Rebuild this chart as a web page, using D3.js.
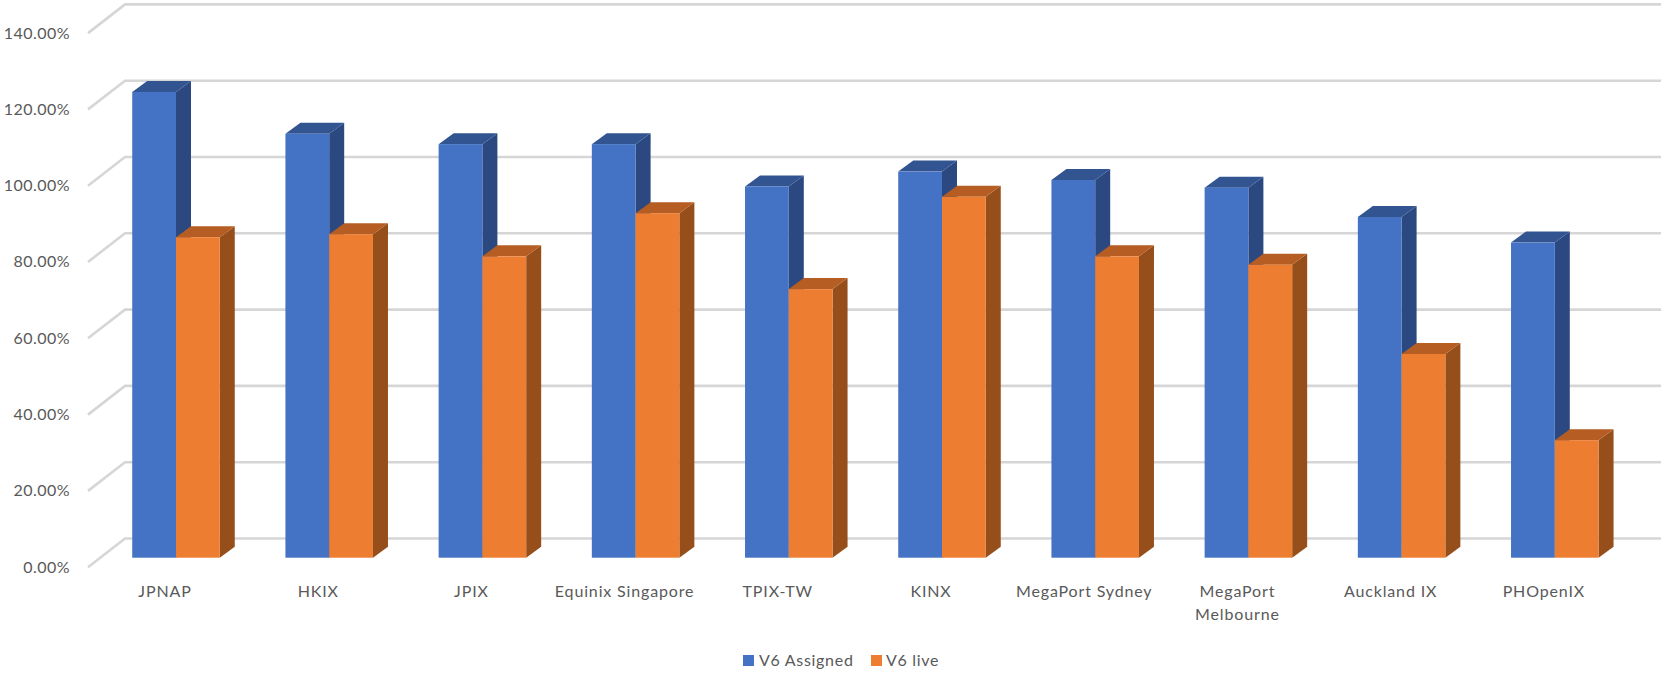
<!DOCTYPE html>
<html><head><meta charset="utf-8">
<script src="https://cdn.jsdelivr.net/npm/d3@7/dist/d3.min.js"></script>
<style>html,body{margin:0;background:#fff}svg{display:block}text{font-family:"Lato","Open Sans",sans-serif;fill:#595959;font-size:16px}
.tick-label{letter-spacing:.45px}.cat-label{letter-spacing:.85px}.leg-label{letter-spacing:.7px}</style>
</head><body><script>
const categories=["JPNAP","HKIX","JPIX","Equinix Singapore","TPIX-TW","KINX","MegaPort Sydney","MegaPort Melbourne","Auckland IX","PHOpenIX"];
const assigned=[122.1,111.1,108.4,108.4,97.3,101.2,99,97,89.3,82.6];
const live=[84,84.8,79,90.3,70.4,94.6,79,76.8,53.4,30.8];
const seriesNames=["V6 Assigned","V6 live"];
const tickValues=[0,20,40,60,80,100,120,140];

const W=1661,H=673,dx=15,dy=-11;
const svg=d3.select("body").append("svg").attr("width",W).attr("height",H);
const y=d3.scaleLinear().domain([0,140]).range([557.7,23.6]);
const x=d3.scaleBand().domain(categories).range([99.4,1631.4]).paddingInner(.4286).paddingOuter(.2143);
const inner=d3.scaleBand().domain(seriesNames).range([0,x.bandwidth()]);
const styles={"V6 Assigned":{f:"#4472c4",t:"#325592",s:"#2b4880"},"V6 live":{f:"#ed7d31",t:"#b55d22",s:"#964f1b"}};

// back wall grid and floor/side diagonals
const grid=svg.append("g").attr("fill","none").attr("stroke","#d6d6d6").attr("stroke-width",2.6);
tickValues.forEach(v=>{
  const yb=y(v)-19.2;
  grid.append("path").attr("d",`M88,${yb+28.7}L125,${yb}L${W},${yb}`);
});

// y tick labels
svg.append("g").selectAll("text").data(tickValues).join("text")
  .attr("class","tick-label")
  .attr("x",70).attr("y",v=>y(v)+9.3).attr("dy",".35em").attr("text-anchor","end")
  .text(v=>d3.format(".2f")(v)+"%");

// bars
const rows=categories.map((c,i)=>({c,vals:[assigned[i],live[i]]}));
rows.forEach(r=>{
  seriesNames.forEach((s,k)=>{
    const v=r.vals[k],st=styles[s],x0=x(r.c)+inner(s),w=inner.bandwidth(),top=y(v),b=y(0);
    const g=svg.append("g");
    g.append("path").attr("fill",st.s).attr("d",`M${x0+w},${top}l${dx},${dy}V${b+dy}l${-dx},${-dy}Z`);
    g.append("path").attr("fill",st.t).attr("d",`M${x0},${top}l${dx},${dy}h${w}l${-dx},${-dy}Z`);
    g.append("rect").attr("x",x0).attr("y",top).attr("width",w).attr("height",b-top).attr("fill",st.f);
  });
});

// category labels
const wrapped={"MegaPort Melbourne":["MegaPort","Melbourne"]};
const labs=svg.append("g").selectAll("text").data(categories).join("text")
  .attr("class","cat-label")
  .attr("text-anchor","middle")
  .attr("transform",c=>`translate(${x(c)+x.bandwidth()/2-11},597)`);
labs.each(function(c){
  (wrapped[c]||[c]).forEach((t,i)=>d3.select(this).append("tspan").attr("x",0).attr("y",i*22.5).text(t));
});

// legend
const legendX=[743,871],textX=[759,886];
seriesNames.forEach((s,i)=>{
  svg.append("rect").attr("x",legendX[i]).attr("y",655).attr("width",11).attr("height",11).attr("fill",styles[s].f);
  svg.append("text").attr("class","leg-label").attr("x",textX[i]).attr("y",666).text(s);
});
</script></body></html>
